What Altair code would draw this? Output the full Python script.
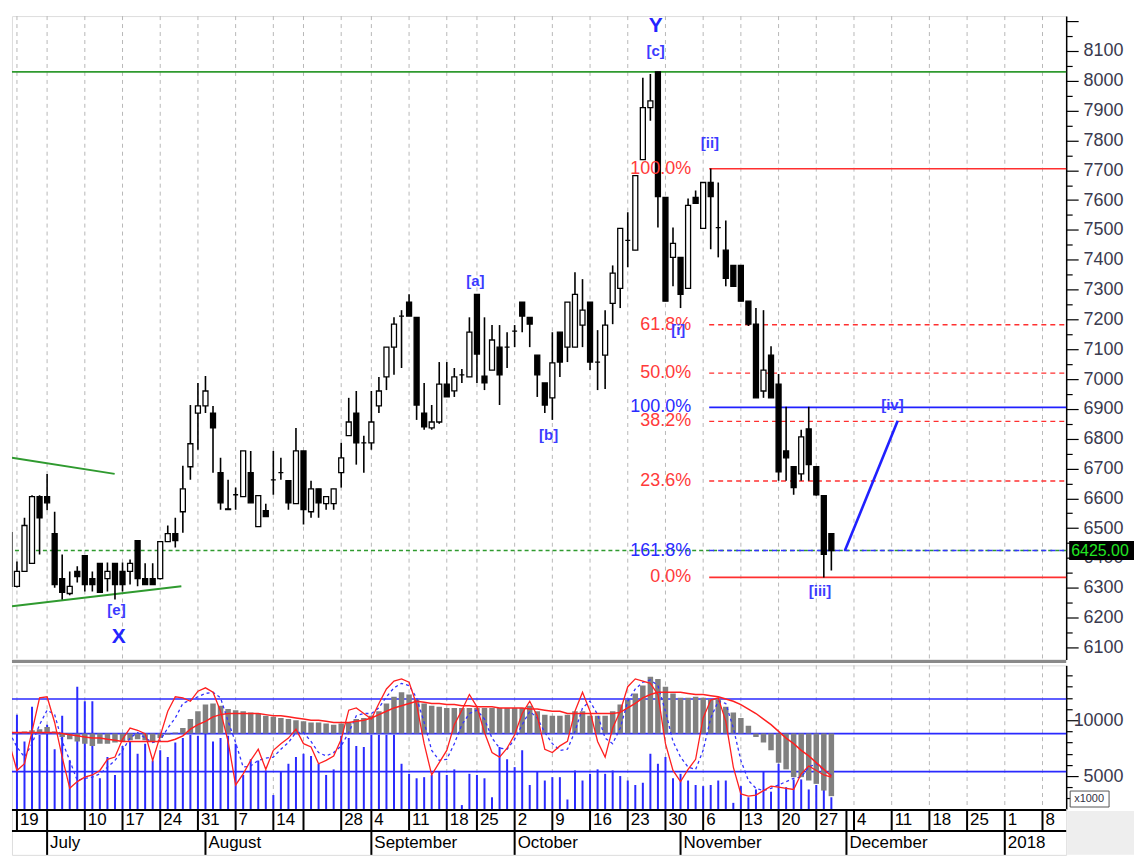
import altair as alt
import pandas as pd

# ---------------- data ----------------
K = list(range(-1, 109))  # trading-day index; 0 = first day of week "19"

OPEN = [6485, 6305, 6355, 6382, 6606, 6606, 6482, 6331, 6281, 6355,
        6408, 6331, 6382, 6331, 6382, 6355, 6355, 6458, 6331, 6331,
        6331, 6455, 6482, 6555, 6706, 6886, 6910, 6886, 6686, 6565,
        6612, 6606, 6686, 6505, 6559, 6662, 6686, 6659, 6582, 6759,
        6555, 6632, 6582, 6582, 6686, 6810, 6886, 6786, 6786, 6910,
        7007, 7107, 7211, 7258, 7207, 6886, 6836, 6856, 6983, 6960,
        7014, 7007, 7284, 7010, 7030, 7107, 7107, 7161, 7258, 7207,
        7080, 6987, 6937, 7157, 7107, 7107, 7181, 7258, 7057, 7080,
        7254, 7304, 7465, 7432, 7736, 7910, 8030, 7609, 7408, 7408,
        7304, 7609, 7505, 7659, 7508, 7432, 7381, 7381, 7261, 7184,
        6960, 7080, 6983, 6759, 6706, 6682, 6833, 6706, 6609, 6482]
HIGH = [6500, 6388, 6535, 6610, 6610, 6682, 6555, 6412, 6355, 6372,
        6408, 6355, 6382, 6385, 6382, 6385, 6395, 6458, 6382, 6382,
        6455, 6509, 6535, 6709, 6913, 6987, 7010, 6910, 6736, 6662,
        6636, 6759, 6759, 6609, 6582, 6759, 6736, 6659, 6836, 6759,
        6659, 6632, 6606, 6632, 6786, 6937, 6960, 6810, 6960, 7007,
        7107, 7207, 7231, 7284, 7207, 6987, 6913, 7057, 7057, 7037,
        7034, 7207, 7284, 7207, 7181, 7181, 7157, 7181, 7258, 7207,
        7080, 6987, 7157, 7157, 7258, 7358, 7335, 7258, 7164, 7231,
        7381, 7505, 7559, 7682, 8010, 8023, 8030, 7609, 7508, 7408,
        7605, 7632, 7659, 7706, 7659, 7532, 7381, 7381, 7261, 7238,
        7231, 7110, 7017, 6907, 6706, 6830, 6907, 6706, 6609, 6482]
LOW = [6290, 6301, 6355, 6382, 6412, 6560, 6300, 6261, 6275, 6318,
       6288, 6288, 6285, 6288, 6261, 6288, 6311, 6305, 6311, 6311,
       6328, 6455, 6435, 6485, 6662, 6763, 6886, 6686, 6562, 6562,
       6562, 6606, 6585, 6505, 6539, 6612, 6662, 6562, 6582, 6512,
       6535, 6535, 6562, 6562, 6636, 6810, 6713, 6686, 6763, 6886,
       6963, 7014, 7037, 7211, 6863, 6830, 6830, 6850, 6940, 6940,
       6987, 7007, 6987, 6963, 7030, 6913, 7037, 7107, 7157, 7107,
       6940, 6886, 6863, 7007, 7057, 7107, 7107, 7030, 6963, 6967,
       7184, 7238, 7375, 7432, 7736, 7866, 7508, 7261, 7311, 7238,
       7304, 7589, 7505, 7435, 7408, 7311, 7311, 7261, 7178, 6937,
       6937, 6937, 6659, 6659, 6612, 6659, 6659, 6609, 6335, 6358]
CLOSE = [6305, 6355, 6509, 6606, 6535, 6585, 6311, 6285, 6305, 6338,
         6311, 6311, 6285, 6355, 6311, 6311, 6382, 6331, 6311, 6311,
         6455, 6482, 6458, 6632, 6783, 6910, 6960, 6836, 6585, 6562,
         6612, 6759, 6585, 6609, 6539, 6662, 6686, 6585, 6759, 6562,
         6632, 6585, 6606, 6632, 6736, 6856, 6786, 6786, 6856, 6960,
         7107, 7184, 7211, 7211, 6913, 6840, 6856, 6983, 6940, 7007,
         7014, 7157, 7084, 6987, 7131, 7014, 7107, 7161, 7211, 7184,
         7014, 6913, 7054, 7057, 7258, 7284, 7231, 7057, 7057, 7181,
         7355, 7505, 7465, 7682, 7910, 7933, 7612, 7261, 7455, 7284,
         7582, 7589, 7659, 7612, 7508, 7338, 7311, 7261, 7184, 6937,
         7030, 6937, 6689, 6736, 6636, 6806, 6713, 6612, 6412, 6425]

# lower panel (units of 1000)
VOLUME = [7.0, 10.5, 8.1, 11.2, 8.7, 9.6, 7.4, 10.4, 6.4, 13.0,
          11.7, 11.7, 4.8, 6.7, 5.1, 7.7, 8.1, 7.0, 7.9, 6.4,
          7.3, 6.7, 8.0, 8.4, 8.7, 8.6, 8.9, 8.1, 8.4, 8.6,
          7.9, 5.1, 6.5, 6.4, 5.5, 3.3, 5.4, 6.1, 6.7, 7.0,
          6.8, 6.1, 5.1, 5.6, 8.6, 8.4, 7.7, 7.6, 8.7, 8.7,
          8.7, 8.7, 6.1, 5.2, 4.8, 4.9, 5.1, 5.4, 5.1, 5.6,
          2.4, 5.2, 5.1, 4.8, 3.1, 7.6, 6.5, 5.8, 7.3, 4.2,
          5.4, 4.6, 4.9, 4.9, 2.9, 5.5, 4.6, 5.2, 5.6, 5.2,
          5.5, 5.0, 4.6, 4.2, 4.4, 7.0, 6.1, 6.7, 4.8, 5.2,
          4.6, 4.2, 4.1, 4.2, 4.6, 4.6, 2.6, 4.1, 3.1, 3.8,
          5.4, 3.6, 6.1, 4.0, 4.7, 4.7, 3.8, 4.2, 3.8, 3.1]
HIST = [9.0, 8.9, 9.0, 9.1, 9.2, 9.4, 9.0, 8.5, 8.3, 8.1,
        7.9, 7.7, 7.9, 7.9, 8.0, 8.1, 8.2, 8.3, 8.2, 8.1,
        8.4, 8.7, 8.9, 9.3, 10.1, 10.8, 11.4, 11.5, 11.3, 11.0,
        10.9, 10.8, 10.7, 10.6, 10.4, 10.3, 10.2, 10.1, 10.0, 9.9,
        9.8, 9.8, 9.7, 9.6, 9.7, 9.8, 10.1, 10.2, 10.4, 10.8,
        11.5, 12.1, 12.5, 12.3, 11.9, 11.5, 11.3, 11.2, 11.1, 11.1,
        11.1, 11.1, 11.1, 11.1, 11.1, 11.1, 11.1, 11.1, 11.1, 11.3,
        10.8, 10.5, 10.4, 10.4, 10.5, 10.8, 10.8, 10.4, 10.4, 10.4,
        10.8, 11.4, 11.8, 12.4, 13.1, 13.9, 13.7, 13.0, 12.4, 12.0,
        12.0, 12.1, 12.0, 11.9, 11.9, 11.2, 10.7, 10.2, 9.5, 8.5,
        8.0, 7.3, 6.2, 5.6, 4.9, 4.9, 4.6, 4.3, 3.7, 3.2]
FAST = [7.9, 5.5, 6.1, 9.0, 12.0, 12.1, 9.8, 6.7, 3.9, 4.5,
        4.9, 5.1, 5.5, 6.5, 6.7, 8.3, 9.3, 9.1, 8.8, 6.4,
        8.6, 10.8, 12.1, 12.0, 11.7, 12.6, 12.9, 12.5, 10.8, 8.1,
        4.2, 5.2, 6.4, 7.4, 5.6, 7.3, 7.9, 8.4, 9.2, 7.9,
        7.6, 6.1, 6.4, 6.8, 8.3, 10.9, 11.1, 10.6, 10.1, 11.5,
        12.8, 13.5, 13.7, 13.4, 11.4, 7.9, 5.1, 6.2, 7.3, 9.6,
        10.9, 12.3, 11.2, 8.9, 7.1, 6.7, 7.5, 8.7, 10.6, 11.7,
        10.4, 7.4, 7.1, 7.7, 8.1, 10.8, 12.5, 10.8, 8.1, 6.7,
        9.3, 10.8, 13.0, 13.7, 13.5, 13.3, 12.3, 7.9, 5.5, 4.5,
        5.6, 6.5, 10.2, 11.8, 12.0, 9.9, 5.8, 3.4, 3.2, 3.3,
        3.7, 4.1, 4.0, 3.9, 3.8, 5.2, 5.9, 5.5, 5.1, 4.9]
SLOW = [8.9, 7.6, 6.7, 7.9, 9.6, 10.9, 10.5, 8.1, 6.4, 4.6,
        4.8, 4.9, 5.2, 5.8, 6.4, 7.3, 8.4, 8.9, 8.4, 8.0,
        8.2, 9.3, 10.2, 11.5, 11.8, 12.1, 12.4, 12.5, 12.0, 9.9,
        8.0, 5.8, 5.9, 6.4, 6.6, 6.7, 7.4, 8.0, 8.9, 8.9,
        8.1, 7.1, 6.8, 7.1, 7.7, 8.9, 10.4, 10.6, 10.6, 11.1,
        12.1, 12.9, 13.3, 13.1, 12.0, 9.8, 7.3, 6.4, 6.5, 7.9,
        9.6, 10.6, 10.9, 10.1, 8.4, 7.5, 7.4, 8.3, 9.6, 10.8,
        10.2, 8.9, 7.9, 7.3, 7.4, 9.0, 11.1, 11.7, 10.5, 8.4,
        7.9, 9.3, 11.7, 12.8, 13.4, 13.6, 13.1, 10.8, 8.1, 6.7,
        5.8, 5.6, 7.3, 10.2, 11.7, 11.5, 9.3, 6.4, 4.6, 3.9,
        3.7, 3.9, 4.2, 4.5, 4.8, 4.9, 5.8, 6.1, 5.5, 5.1]
MA = [8.9, 8.9, 8.9, 8.9, 8.9, 8.9, 8.9, 8.8, 8.7, 8.6,
      8.5, 8.4, 8.4, 8.3, 8.2, 8.1, 8.1, 8.1, 8.1, 8.1,
      8.1, 8.1, 8.3, 8.6, 9.2, 9.6, 9.9, 10.3, 10.5, 10.6,
      10.6, 10.6, 10.6, 10.6, 10.5, 10.4, 10.4, 10.3, 10.2, 10.1,
      10.0, 10.0, 9.9, 9.8, 9.8, 9.8, 9.9, 10.0, 10.2, 10.5,
      10.8, 11.1, 11.3, 11.5, 11.7, 11.6, 11.5, 11.5, 11.4, 11.4,
      11.3, 11.3, 11.2, 11.2, 11.2, 11.1, 11.1, 11.1, 11.1, 11.0,
      11.0, 10.9, 10.8, 10.8, 10.6, 10.6, 10.6, 10.6, 10.6, 10.6,
      10.6, 10.7, 11.1, 11.5, 12.0, 12.3, 12.5, 12.5, 12.5, 12.5,
      12.4, 12.3, 12.3, 12.2, 12.1, 11.9, 11.7, 11.4, 11.0, 10.6,
      10.1, 9.6, 9.0, 8.4, 7.9, 7.3, 6.8, 6.2, 5.6, 5.0]

OSC_LEVELS = [11.9, 8.8, 5.4]
HIST_BASE = 8.8

WEEK_START = [0, 4, 9, 14, 19, 24, 29, 34, 38, 43, 47, 52, 57, 61, 66, 71, 76,
              81, 86, 91, 96, 101, 106, 110, 111, 116, 121, 126, 131, 136]
WEEK_LABEL = ["19", "", "10", "17", "24", "31", "7", "14", "", "28", "4", "11",
              "18", "25", "2", "9", "16", "23", "30", "6", "13", "20", "27", "",
              "4", "11", "18", "25", "1", "8"]
GRID_K = [k for k in WEEK_START if k != 110]
MONTH_START = [4, 25, 47, 66, 88, 110, 131]
MONTH_LABEL = ["July", "August", "September", "October", "November", "December", "2018"]

TOP_LINE = 8030
LAST_PRICE = 6425
FIB_START = 91.8
FIB_LABEL_K = 89.4
FIB_RED_SOLID = [7705, 6335]
FIB_RED_DASH = [7182, 7020, 6858, 6658]
FIB_BLUE_SOLID = [6905]
FIB_BLUE_DASH = [6425]
FIB_TEXT = ["100.0%", "61.8%", "50.0%", "38.2%", "23.6%", "0.0%", "100.0%", "161.8%"]
FIB_TEXT_P = [7705, 7182, 7020, 6858, 6658, 6335, 6905, 6425]
FIB_TEXT_C = ["#ff3a3a"] * 6 + ["#2a2aff"] * 2

TRI_NAME = ["up", "up", "low", "low"]
TRI_K = [-0.66, 12.96, -0.66, 21.8]
TRI_P = [6736, 6682, 6238, 6305]
PROJ_K = [109.8, 116.8]
PROJ_P = [6425, 6860]

WAVE_TEXT = ["[c]", "[ii]", "[i]", "[a]", "[b]", "[e]", "[iii]", "[iv]"]
WAVE_K = [84.7, 91.9, 87.7, 60.8, 70.5, 13.2, 106.5, 116.1]
WAVE_P = [8100, 7793, 7164, 7328, 6813, 6224, 6288, 6913]
BIG_TEXT = ["Y", "X"]
BIG_K = [84.7, 13.5]
BIG_P = [8184, 6134]

XMIN, XMAX = -0.66, 139.14
PMIN, PMAX = 6060, 8217
VMIN, VMAX = 2.05, 14.91

FONT = "Liberation Sans"
GREEN = "#2f9a2f"
RED = "#ff3030"
BLUE = "#2020ff"

# ---------------- frames ----------------
candles = pd.DataFrame({"k": K, "open": OPEN, "high": HIGH, "low": LOW, "close": CLOSE})
osc = pd.DataFrame({"k": K, "vol": VOLUME, "hist": HIST, "fast": FAST, "slow": SLOW, "ma": MA})
grid = pd.DataFrame({"k": GRID_K})

xs = alt.Scale(domain=[XMIN, XMAX], nice=False, zero=False)
ps = alt.Scale(domain=[PMIN, PMAX], nice=False, zero=False)
vs = alt.Scale(domain=[VMIN, VMAX], nice=False, zero=False)

P_LABEL_TEST = "datum.value % 100 === 0 && datum.value < 8200"
paxis = alt.Axis(
    orient="right", values=list(range(6100, 8201, 50)), format="d",
    labelExpr=f"({P_LABEL_TEST}) ? datum.label : ''",
    tickSize={"condition": {"test": "datum.value % 100 === 0", "value": 12}, "value": 6},
    labelFontSize={"condition": {"test": P_LABEL_TEST, "value": 18}, "value": 0},
    tickColor="black", tickWidth=1.2, domainColor="black", domainWidth=1.5,
    labelFont=FONT, labelColor="#3a3a4e", labelAlign="right",
    labelPadding=45, labelOverlap=False, labelBound=False, grid=False, title=None)
V_LABEL_TEST = "datum.value == 5 || datum.value == 10"
vaxis = alt.Axis(
    orient="right", values=list(range(3, 15)),
    labelExpr="datum.value == 5 ? '5000' : (datum.value == 10 ? '10000' : '')",
    tickSize={"condition": {"test": V_LABEL_TEST, "value": 12}, "value": 6},
    labelFontSize={"condition": {"test": V_LABEL_TEST, "value": 18}, "value": 0},
    tickColor="black", tickWidth=1.2, domainColor="black", domainWidth=1.5,
    labelFont=FONT, labelColor="#3a3a4e", labelAlign="right",
    labelPadding=45, labelOverlap=False, labelBound=False, grid=False, title=None)


def PX(f):
    return alt.X(f"{f}:Q", scale=xs, axis=None, title=None)


def PY(f):
    return alt.Y(f"{f}:Q", scale=ps, axis=paxis, title=None)


def VY(f):
    return alt.Y(f"{f}:Q", scale=vs, axis=vaxis, title=None)


# ---------------- price panel ----------------
gridL = alt.Chart(grid).mark_rule(color="#b8b8b8", strokeDash=[4, 4], strokeWidth=1).encode(x=PX("k"))
topL = alt.Chart(pd.DataFrame({"p": [TOP_LINE]})).mark_rule(color=GREEN, strokeWidth=1.6).encode(y=PY("p"))
lastL = alt.Chart(pd.DataFrame({"p": [LAST_PRICE]})).mark_rule(
    color=GREEN, strokeWidth=1.4, strokeDash=[4, 3]).encode(y=PY("p"))
tri = alt.Chart(pd.DataFrame({"n": TRI_NAME, "k": TRI_K, "p": TRI_P})).mark_line(
    color=GREEN, strokeWidth=2, clip=True).encode(x=PX("k"), y=PY("p"), detail="n:N")


def fib_layer(levels, color, dash=None, width=1.5):
    df = pd.DataFrame({"p": levels, "x1": [FIB_START] * len(levels), "x2": [XMAX] * len(levels)})
    kw = dict(color=color, strokeWidth=width)
    if dash:
        kw["strokeDash"] = dash
    return alt.Chart(df).mark_rule(**kw).encode(x=PX("x1"), x2="x2:Q", y=PY("p"))


fibs = [fib_layer(FIB_RED_DASH, RED, [5, 4], 1.4), fib_layer(FIB_RED_SOLID, RED, None, 1.6),
        fib_layer(FIB_BLUE_DASH, "#3434ff", [5, 4], 1.4), fib_layer(FIB_BLUE_SOLID, BLUE, None, 1.6)]

proj = alt.Chart(pd.DataFrame({"k": PROJ_K, "p": PROJ_P})).mark_line(
    color=BLUE, strokeWidth=2.6).encode(x=PX("k"), y=PY("p"))

wick = alt.Chart(candles).mark_rule(color="black", strokeWidth=1.6, clip=True).encode(
    x=PX("k"), y=PY("low"), y2="high:Q")
body = alt.Chart(candles).transform_calculate(
    k1="datum.k - 0.33", k2="datum.k + 0.33",
    top="max(datum.open, datum.close)", bot="min(datum.open, datum.close)"
).mark_rect(stroke="black", strokeWidth=1.3, clip=True).encode(
    x=PX("k1"), x2="k2:Q", y=PY("bot"), y2="top:Q",
    fill=alt.condition("datum.close >= datum.open", alt.value("white"), alt.value("black")))

fibT = alt.Chart(pd.DataFrame({"t": FIB_TEXT, "p": FIB_TEXT_P, "c": FIB_TEXT_C,
                               "k": [FIB_LABEL_K] * len(FIB_TEXT)})).mark_text(
    align="right", baseline="middle", font=FONT, fontSize=18).encode(
    x=PX("k"), y=PY("p"), text="t:N", color=alt.Color("c:N", scale=None))
waveT = alt.Chart(pd.DataFrame({"t": WAVE_TEXT, "k": WAVE_K, "p": WAVE_P})).mark_text(
    align="center", baseline="middle", font=FONT, fontSize=15, fontWeight="bold", color="#3b3bff").encode(
    x=PX("k"), y=PY("p"), text="t:N")
bigT = alt.Chart(pd.DataFrame({"t": BIG_TEXT, "k": BIG_K, "p": BIG_P})).mark_text(
    align="center", baseline="middle", font=FONT, fontSize=21, fontWeight="bold", color="#2424ff").encode(
    x=PX("k"), y=PY("p"), text="t:N")

tagdf = pd.DataFrame({"p": [LAST_PRICE], "t": [f"{LAST_PRICE:.2f}"]})
tagR = alt.Chart(tagdf).transform_calculate(top="datum.p + 32", bot="datum.p - 32").mark_rect(
    color="black", clip=False).encode(x=alt.value(1060), x2=alt.value(1125), y=PY("bot"), y2="top:Q")
tagT = alt.Chart(tagdf).mark_text(align="left", baseline="middle", font=FONT, fontSize=16,
                                  color="#22e622", clip=False).encode(
    x=alt.value(1062), y=PY("p"), text="t:N")

price = alt.layer(gridL, topL, lastL, tri, *fibs, proj, wick, body, fibT, waveT, bigT, tagR, tagT).properties(
    width=1057, height=645)

# ---------------- lower panel ----------------
lv = pd.DataFrame({"v": OSC_LEVELS})
gridV = alt.Chart(grid).mark_rule(color="#b8b8b8", strokeDash=[4, 4], strokeWidth=1).encode(x=PX("k"))
volL = alt.Chart(osc).mark_rule(color="#2a2aff", strokeWidth=2, clip=True).encode(
    x=PX("k"), y=VY("vol"), y2=alt.datum(VMIN))
lvlL = alt.Chart(lv).mark_rule(color="#2a2aff", strokeWidth=1.6).encode(y=VY("v"))
histL = alt.Chart(osc).mark_rule(color="#808080", strokeWidth=5.5, clip=True).encode(
    x=PX("k"), y=VY("hist"), y2=alt.datum(HIST_BASE))
slowL = alt.Chart(osc).mark_line(color="#3333ff", strokeWidth=1.3, strokeDash=[3, 3], clip=True).encode(
    x=PX("k"), y=VY("slow"))
fastL = alt.Chart(osc).mark_line(color="#ff2020", strokeWidth=1.3, clip=True).encode(x=PX("k"), y=VY("fast"))
maL = alt.Chart(osc).mark_line(color="#ff2020", strokeWidth=1.5, clip=True).encode(x=PX("k"), y=VY("ma"))
sepL = alt.Chart(pd.DataFrame({"a": [0]})).mark_rule(color="#8a8a8a", strokeWidth=3, clip=False).encode(
    y=alt.value(-4))
boxR = alt.Chart(pd.DataFrame({"a": [0]})).mark_rect(fill="white", stroke="#555555", strokeWidth=1,
                                                      clip=False).encode(
    x=alt.value(1061), x2=alt.value(1100), y=alt.value(126), y2=alt.value(142))
boxT = alt.Chart(pd.DataFrame({"t": ["x1000"]})).mark_text(font=FONT, fontSize=11, color="#333344",
                                                           clip=False).encode(
    x=alt.value(1080), y=alt.value(134), text="t:N")

lower = alt.layer(gridV, volL, lvlL, histL, slowL, fastL, maL, sepL, boxR, boxT).properties(
    width=1057, height=144)

# ---------------- date axis panel ----------------
wk = pd.DataFrame({"k": WEEK_START, "t": WEEK_LABEL})
mo = pd.DataFrame({"k": MONTH_START, "t": MONTH_LABEL})
one = pd.DataFrame({"a": [0]})
dGray = alt.Chart(one).mark_rect(fill="#eeeeee", clip=False).encode(
    x=alt.value(1058), x2=alt.value(1125), y=alt.value(2), y2=alt.value(46))
dTop = alt.Chart(one).mark_rule(color="black", strokeWidth=2).encode(y=alt.value(1))
dMid = alt.Chart(one).mark_rule(color="black", strokeWidth=2).encode(y=alt.value(22))
wkSep = alt.Chart(wk).mark_rule(color="black", strokeWidth=2).encode(
    x=PX("k"), y=alt.value(0), y2=alt.value(22))
moSep = alt.Chart(mo).mark_rule(color="black", strokeWidth=2).encode(
    x=PX("k"), y=alt.value(22), y2=alt.value(46))
wkT = alt.Chart(wk).mark_text(align="left", baseline="middle", dx=3, font=FONT, fontSize=17,
                              color="black").encode(x=PX("k"), y=alt.value(11.5), text="t:N")
moT = alt.Chart(mo).mark_text(align="left", baseline="middle", dx=3, font=FONT, fontSize=17,
                              color="black").encode(x=PX("k"), y=alt.value(34.5), text="t:N")
dates = alt.layer(dGray, dTop, dMid, wkSep, moSep, wkT, moT).properties(width=1057, height=46)

chart = alt.vconcat(
    price, alt.vconcat(lower, dates, spacing=0, bounds="flush"), spacing=6, bounds="flush"
).properties(
    padding={"left": 10, "top": 13, "right": 0, "bottom": 0}
).configure_view(strokeWidth=0).configure(background="white")

chart.save("out.html", embed_options={"renderer": "svg", "actions": False})
